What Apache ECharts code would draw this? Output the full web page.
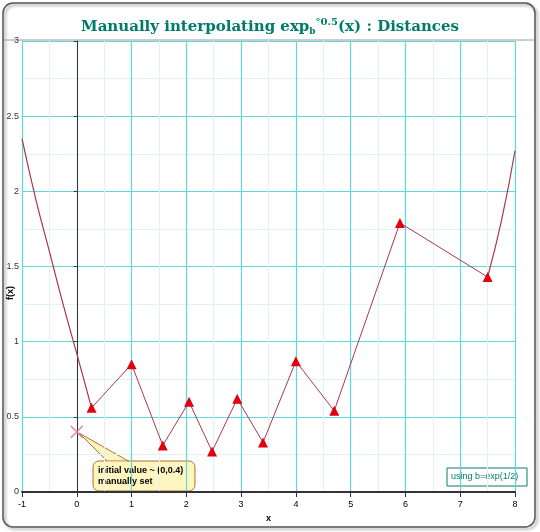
<!DOCTYPE html>
<html><head><meta charset="utf-8">
<script src="https://cdn.jsdelivr.net/npm/echarts@6/dist/echarts.min.js"></script>
<style>body{margin:0;background:#fff}#c{width:540px;height:532px}</style>
</head><body><div id="c"></div>
<script>
// interpolated distances (triangles)
var ptsX = [0.27, 1, 1.57, 2.05, 2.47, 2.93, 3.4, 4, 4.7, 5.9, 7.5];
var ptsY = [0.56, 0.85, 0.31, 0.6, 0.27, 0.62, 0.33, 0.87, 0.54, 1.79, 1.43];
// extrapolated ends
var leftX = [-1, -0.75, -0.5, -0.25, 0, 0.27];
var leftY = [2.35, 1.95, 1.6, 1.25, 0.92, 0.56];
var rightX = [7.5, 7.75, 8];
var rightY = [1.43, 1.8, 2.27];
var initX = [0], initY = [0.4];

function zip(a, b) { return a.map(function (v, i) { return [v, b[i]]; }); }

var chart = echarts.init(document.getElementById('c'));
chart.setOption({
  animation: false,
  title: {
    text: '{t|Manually interpolating exp}{s|b}{p|°0.5}{t|(x) : Distances}',
    left: 'center', top: 12,
    textStyle: { rich: {
      t: { fontFamily: 'DejaVu Serif', fontWeight: 'bold', fontSize: 15, color: '#007a6c' },
      s: { fontFamily: 'DejaVu Serif', fontWeight: 'bold', fontSize: 9, color: '#007a6c', padding: [10, 0, 0, 0] },
      p: { fontFamily: 'DejaVu Serif', fontSize: 10, color: '#007a6c', padding: [0, 0, 10, 0] }
    } }
  },
  graphic: [
    { type: 'rect', shape: { x: 3, y: 3, width: 532, height: 524, r: 10 }, style: { fill: 'none', stroke: '#555', lineWidth: 1.5, shadowBlur: 3, shadowColor: 'rgba(0,0,0,0.4)', shadowOffsetX: 2, shadowOffsetY: 2 } },
    { type: 'line', shape: { x1: 4, y1: 40, x2: 534, y2: 40 }, style: { stroke: '#999', lineWidth: 1 } },
    { type: 'text', x: 6, y: 300, rotation: Math.PI / 2, style: { text: 'f(x)', fill: '#000', font: 'bold 9px Liberation Sans' } },
    { type: 'rect', shape: { x: 447, y: 468, width: 80, height: 18 }, style: { fill: '#fff', stroke: '#0a7a6a', lineWidth: 1 } },
    { type: 'text', x: 451, y: 472, style: { text: 'using b=exp(1/2)', fill: '#0a7a6a', font: '9px Liberation Sans' } },
    { type: 'polygon', shape: { points: [[79, 433], [130, 462], [110, 464]] }, style: { fill: '#fff5c0', stroke: '#b07030' } },
    { type: 'rect', shape: { x: 93, y: 461, width: 102, height: 30, r: 6 }, style: { fill: '#fff5c0', stroke: '#b07030', lineWidth: 1 } },
    { type: 'rect', shape: { x: 105, y: 461.5, width: 22, height: 2 }, style: { fill: '#fff5c0' } },
    { type: 'text', x: 98, y: 465, style: { text: 'initial value ~ (0,0.4)\nmanually set', fill: '#000', font: 'bold 9px Liberation Sans', lineHeight: 11 } }
  ],
  grid: { left: 22, right: 25, top: 41, bottom: 40, containLabel: false, outerBoundsMode: 'none' },
  xAxis: {
    type: 'value', min: -1, max: 8, interval: 1,
    name: 'x', nameLocation: 'middle', nameGap: 20,
    nameTextStyle: { fontSize: 9, fontWeight: 'bold', color: '#000' },
    axisLine: { onZero: false, lineStyle: { color: '#333', width: 2 } },
    axisTick: { show: true, lineStyle: { color: '#333' } },
    axisLabel: { fontSize: 9, color: '#000', margin: 8 },
    splitLine: { lineStyle: { color: '#5fd8d8', width: 1.2 } },
    minorTick: { show: false, splitNumber: 2 },
    minorSplitLine: { show: true, lineStyle: { color: '#e0f3f3' } }
  },
  yAxis: {
    type: 'value', min: 0, max: 3, interval: 0.5,
    axisLine: { show: true, onZero: true, lineStyle: { color: '#333', width: 1 } },
    axisTick: { show: true, length: 3, lineStyle: { color: '#333' } },
    axisLabel: { fontSize: 9, color: '#333', margin: 3 },
    splitLine: { lineStyle: { color: '#5fd8d8', width: 1.2 } },
    minorTick: { show: false, splitNumber: 2 },
    minorSplitLine: { show: true, lineStyle: { color: '#e0f3f3' } }
  },
  series: [
    { type: 'line', data: zip(leftX, leftY), smooth: true, showSymbol: false, lineStyle: { color: '#a8384a', width: 1.2 } },
    { type: 'line', data: zip(rightX, rightY), smooth: true, showSymbol: false, lineStyle: { color: '#a8384a', width: 1.2 } },
    { type: 'line', data: zip(ptsX, ptsY), symbol: 'triangle', symbolSize: 10, itemStyle: { color: '#e00010' }, lineStyle: { color: '#a8384a', width: 1 } },
    { type: 'scatter', data: zip(initX, initY), symbol: 'path://M0,0L10,10M10,0L0,10', symbolSize: 12, itemStyle: { color: 'none', borderColor: '#e87090', borderWidth: 1.5 } }
  ]
});
</script></body></html>
